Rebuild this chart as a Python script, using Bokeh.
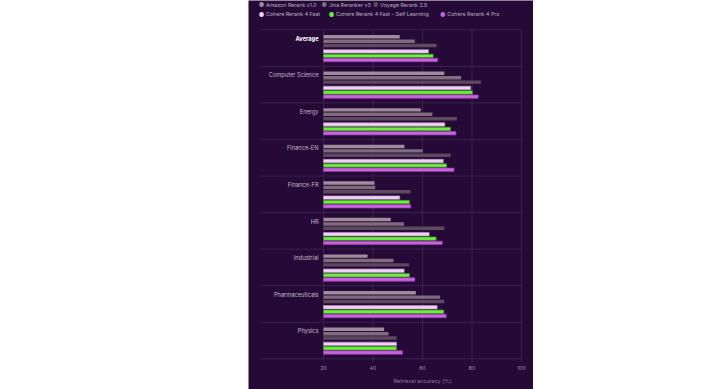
from bokeh.plotting import figure
from bokeh.models import Range1d, Label, ColumnDataSource
from bokeh.core.properties import value
from bokeh.embed import file_html
from bokeh.resources import INLINE

categories = ["Average", "Computer Science", "Energy", "Finance-EN", "Finance-FR",
              "HR", "Industrial", "Pharmaceuticals", "Physics"]
series_names = ["Amazon Rerank v1.0", "Jina Reranker v3", "Voyage Rerank 2.5",
                "Cohere Rerank 4 Fast", "Cohere Rerank 4 Fast - Self Learning", "Cohere Rerank 4 Pro"]
amazon = [50.8, 68.8, 59.3, 52.7, 40.6, 47.2, 37.8, 57.3, 44.5]
jina = [56.9, 75.6, 64.0, 60.1, 40.9, 52.5, 48.3, 67.1, 46.3]
voyage = [65.7, 83.6, 73.9, 71.4, 55.2, 68.8, 54.6, 68.8, 49.5]
fast = [62.4, 79.5, 69.0, 68.4, 50.8, 62.7, 52.6, 65.9, 49.5]
self_learning = [64.3, 80.2, 71.3, 69.7, 54.7, 65.5, 54.7, 68.6, 49.5]
pro = [66.1, 82.5, 73.5, 72.7, 55.2, 68.0, 56.9, 69.6, 51.9]
x_ticks = [20, 40, 60, 80, 100]
x_tick_labels = ["20", "40", "60", "80", "100"]
x_title = "Retrieval accuracy (%)"
x_min = 20

series = [amazon, jina, voyage, fast, self_learning, pro]
n = len(categories)

# styling
BG = "#250a37"
GRID = "#3f2952"
fills = ["#9d8c99", "#7f6d7e", "#5d4a5e", "#f0d3f3", "#6cf03c", "#c965da"]
lines = [None, None, None, "#b98ec4", "#3a9a26", "#9a3cb0"]
offsets = [0.191, 0.312, 0.431, 0.591, 0.713, 0.829]  # slot centres within a category band
bar_h = 0.094
sep_left = -5.45      # separators reach into the label column
tick_y = 9.264        # row of the tick labels below the plot
title_y = 9.593
FONT = "Inter"

p = figure(width=285, height=389, x_range=Range1d(-10.30, 104.85), y_range=Range1d(9.839, -0.801),
           output_backend="svg", toolbar_location=None, y_axis_location=None, x_axis_location=None,
           min_border_left=0, min_border_right=0, min_border_top=0, min_border_bottom=0)
p.styles = {"margin-left": "248px"}
p.background_fill_color = BG
p.border_fill_color = BG
p.outline_line_color = None
p.grid.visible = False

# category separators and vertical grid lines
p.segment(x0=[sep_left] * (n + 1), x1=[x_ticks[-1]] * (n + 1),
          y0=list(range(n + 1)), y1=list(range(n + 1)), line_color=GRID, line_width=0.8)
p.segment(x0=x_ticks, x1=x_ticks, y0=[0] * len(x_ticks), y1=[n + 0.08] * len(x_ticks),
          line_color=GRID, line_width=0.8)

# x tick labels and title
p.text(x=x_ticks, y=[tick_y] * len(x_ticks), text=x_tick_labels, text_align="center",
       text_baseline="middle", text_font=value(FONT), text_font_size="5px", text_color="#a696b0")
p.text(x=[(x_ticks[0] + x_ticks[-1]) / 2], y=[title_y], text=[x_title], text_align="center",
       text_baseline="middle", text_font=value(FONT), text_font_size="5.4px", text_color="#8f7f9c")

for j, vals in enumerate(series):
    src = ColumnDataSource(dict(
        y=[i + offsets[j] for i in range(n)],
        right=vals,
        left=[x_min] * len(vals),
    ))
    kw = dict(line_color=lines[j], line_width=0.7) if lines[j] else dict(line_color=None)
    p.hbar(y="y", left="left", right="right", height=bar_h, fill_color=fills[j], source=src, **kw)

# category labels
lab_src = ColumnDataSource(dict(
    x=[x_min - 2.0] * n,
    y=[i + 0.232 for i in range(n)],
    text=categories,
    color=["#ffffff"] + ["#c2b6ca"] * (n - 1),
    style=["bold"] + ["normal"] * (n - 1),
))
p.text(x="x", y="y", text="text", source=lab_src, text_align="right", text_baseline="middle",
       text_font=value(FONT), text_font_size="5.7px", text_color="color", text_font_style="style")

# legend (two rows) -- screen offsets from the bottom-left of the plot
leg_pos = [(13, 384.7), (75.7, 384.7), (127.3, 384.7), (13, 375.3), (83, 375.3), (194.3, 375.3)]
for j, name in enumerate(series_names):
    x0, y0 = leg_pos[j]
    p.add_layout(Label(x=x0, y=y0, x_units="screen", y_units="screen", text="●",
                       text_font=FONT, text_font_size="6px", text_color=fills[j],
                       text_align="center", text_baseline="middle"))
    p.add_layout(Label(x=x0 + 4.5, y=y0, x_units="screen", y_units="screen", text=name,
                       text_font=FONT, text_font_size="5.3px", text_color="#b9aec3",
                       text_align="left", text_baseline="middle"))

open("out.html", "w").write(file_html(p, INLINE))
